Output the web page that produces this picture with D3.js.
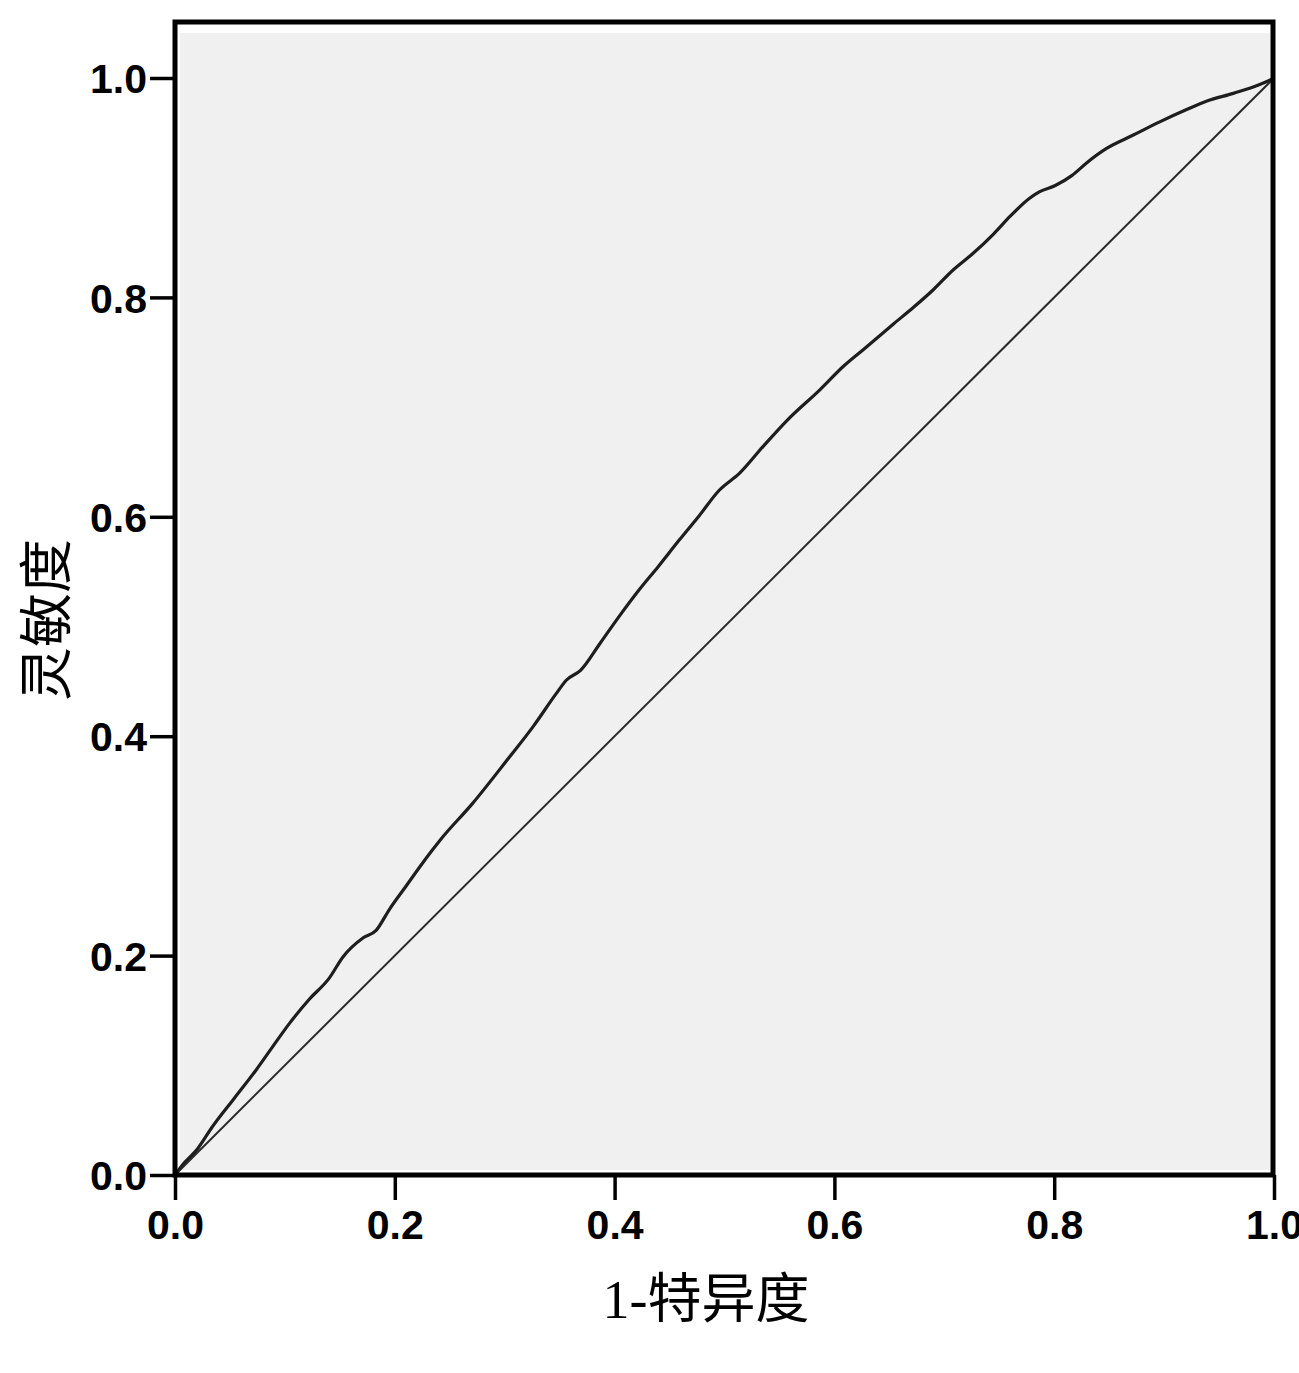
<!DOCTYPE html>
<html><head><meta charset="utf-8">
<script src="https://cdn.jsdelivr.net/npm/d3@7"></script>
<style>
html,body{margin:0;padding:0;background:#fff;}
svg{display:block;}
</style></head>
<body>
<script>
// ROC curve
const fpr = [0,0.0066,0.0206,0.034,0.054,0.074,0.0889,0.104,0.122,0.140,0.153,0.171,0.183,0.195,0.210,0.225,0.234,0.241,0.271,0.302,0.326,0.347,0.356,0.369,0.387,0.404,0.422,0.440,0.459,0.477,0.495,0.514,0.535,0.557,0.587,0.608,0.627,0.654,0.672,0.690,0.708,0.726,0.745,0.760,0.777,0.786,0.801,0.816,0.830,0.848,0.872,0.896,0.920,0.939,0.963,0.987,1];
const tpr = [0,0.009,0.024,0.044,0.070,0.096,0.117,0.138,0.160,0.179,0.199,0.216,0.223,0.242,0.263,0.284,0.296,0.305,0.339,0.378,0.409,0.439,0.451,0.460,0.485,0.509,0.533,0.555,0.579,0.601,0.624,0.640,0.664,0.688,0.716,0.737,0.753,0.776,0.791,0.807,0.825,0.840,0.858,0.874,0.890,0.896,0.902,0.911,0.923,0.936,0.948,0.960,0.971,0.979,0.986,0.994,1];
const refX = [0,1];
const refY = [0,1];
const xTicks = [0,0.2,0.4,0.6,0.8,1.0];
const yTicks = [0,0.2,0.4,0.6,0.8,1.0];
const xTitle = "1-特异度";
const yTitle = "灵敏度";

const W = 1299, H = 1373;
const pLeft = 175, pRight = 1273, pTop = 22, pBottom = 1175;
const x = d3.scaleLinear().domain([0,1]).range([pLeft, pRight + 1]);
const y = d3.scaleLinear().domain([0,1]).range([pBottom, 78]);

const svg = d3.select("body").append("svg").attr("width", W).attr("height", H);

// data area
svg.append("rect").attr("x", pLeft + 5).attr("y", pTop + 11)
  .attr("width", pRight - pLeft - 8).attr("height", pBottom - pTop - 16)
  .attr("fill", "#f0f0f0");

const line = d3.line().x(d => x(d[0])).y(d => y(d[1]));

svg.append("path").datum(refX.map((v,i)=>[v, refY[i]]))
  .attr("d", line).attr("fill","none").attr("stroke","#2a2a2a").attr("stroke-width",2);

svg.append("path").datum(fpr.map((v,i)=>[v, tpr[i]]))
  .attr("d", d3.line().x(d => x(d[0])).y(d => y(d[1])).curve(d3.curveMonotoneX))
  .attr("fill","none")
  .attr("stroke","#1e1e1e").attr("stroke-width",3.2).attr("stroke-linejoin","round");

// frame
svg.append("rect").attr("x", pLeft).attr("y", pTop)
  .attr("width", pRight - pLeft).attr("height", pBottom - pTop)
  .attr("fill","none").attr("stroke","#000").attr("stroke-width",5);

const fmt = d3.format(".1f");
const xa = svg.append("g").attr("transform",`translate(0,${pBottom})`)
  .call(d3.axisBottom(x).tickValues(xTicks).tickFormat(fmt).tickSize(25).tickPadding(10));
const ya = svg.append("g").attr("transform",`translate(${pLeft},0)`)
  .call(d3.axisLeft(y).tickValues(yTicks).tickFormat(fmt).tickSize(25).tickPadding(3));
[xa, ya].forEach(g => {
  g.select(".domain").remove();
  g.selectAll(".tick line").attr("stroke","#000").attr("stroke-width",3.5);
  g.selectAll(".tick text").attr("fill","#000")
    .style("font-family","'Liberation Sans', Arial, sans-serif")
    .style("font-size","41px").style("font-weight","bold");
});
ya.selectAll(".tick text").attr("dy","0.36em");

svg.append("text").attr("x", 706).attr("y", 1318).attr("text-anchor","middle")
  .style("font-family","'Liberation Serif','Noto Sans CJK SC',serif")
  .style("font-size","54px").attr("fill","#000").text(xTitle);

svg.append("text").attr("transform","translate(66,620) rotate(-90)").attr("text-anchor","middle")
  .style("font-family","'Noto Sans CJK SC',sans-serif")
  .style("font-size","54px").attr("fill","#000").text(yTitle);
</script>
</body></html>
